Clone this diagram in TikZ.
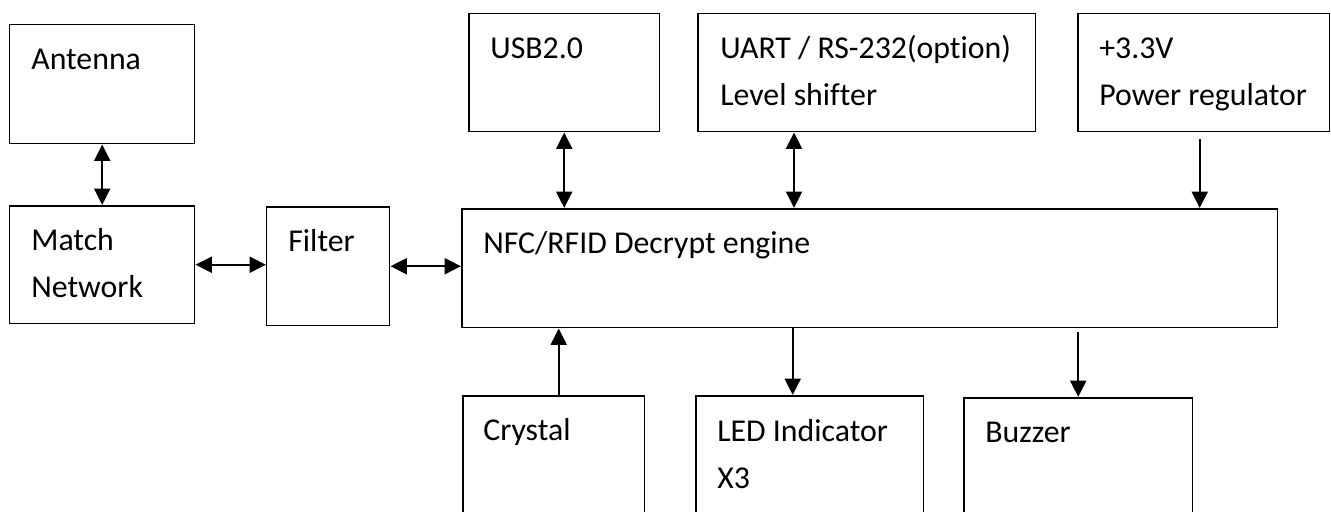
\documentclass[tikz,border=0pt]{standalone}
\usepackage{fontspec}
\setmainfont{Carlito}[Ligatures=NoCommon]
\usetikzlibrary{arrows.meta}
\begin{document}
\begin{tikzpicture}[x=0.02cm,y=-0.02cm,
  blk/.style={draw, line width=0.85pt, anchor=north west, inner sep=0pt},
  txt/.style={anchor=base west, align=left, inner sep=0pt, font=\fontsize{18.1}{26.7}\selectfont},
  con/.style={line width=1.15pt, -{Triangle[length=0.33cm,width=0.32cm]}},
  dcon/.style={line width=1.15pt, {Triangle[length=0.33cm,width=0.32cm]}-{Triangle[length=0.33cm,width=0.32cm]}}]
\useasboundingbox (0,0) rectangle (1331,511);
\clip (0,0) rectangle (1331,511);
% left chain
\node[blk, minimum width=3.7cm, minimum height=2.38cm] (ant) at (9,24){};
\node[txt] (antT) at ([shift={(22,45)}]ant.north west){Antenna};
\node[blk, minimum width=3.7cm, minimum height=2.36cm] (mat) at (9,205){};
\node[txt] (matT) at ([shift={(22,92)}]mat.north west){Match\\Network};
\node[blk, minimum width=2.46cm, minimum height=2.38cm] (filt) at (266,206){};
\node[txt] (filtT) at ([shift={(22,45)}]filt.north west){Filter};
% engine
\node[blk, minimum width=16.32cm, minimum height=2.38cm] (nfc) at (461,208){};
\node[txt] (nfcT) at ([shift={(22,45)}]nfc.north west){NFC/RFID Decrypt engine};
% top row
\node[blk, minimum width=3.82cm, minimum height=2.36cm] (usb) at (468,13){};
\node[txt] (usbT) at ([shift={(22,45)}]usb.north west){USB2.0};
\node[blk, minimum width=6.76cm, minimum height=2.36cm] (uart) at (697,13){};
\node[txt] (uartT) at ([shift={(23,92)}]uart.north west){UART / RS-232(option)\\Level shifter};
\node[blk, minimum width=5.04cm, minimum height=2.36cm] (pwr) at (1077,13){};
\node[txt] (pwrT) at ([shift={(22,92)}]pwr.north west){+3.3V\\Power regulator};
% bottom row
\node[blk, minimum width=3.64cm, minimum height=2.9cm] (cry) at (462,395){};
\node[txt] (cryT) at ([shift={(21,45)}]cry.north west){Crystal};
\node[blk, minimum width=4.56cm, minimum height=2.9cm] (led) at (695,395){};
\node[txt] (ledT) at ([shift={(22,93)}]led.north west){LED Indicator\\X3};
\node[blk, minimum width=4.58cm, minimum height=2.9cm] (buz) at (963,397){};
\node[txt] (buzT) at ([shift={(22,45)}]buz.north west){Buzzer};
% connectors
\coordinate (uartP) at ([shift={(97,0)}]uart.south west);
\coordinate (pwrP) at ([shift={(-4,7)}]pwr.south);
\coordinate (cryP) at ([shift={(5,0)}]cry.north);
\coordinate (ledP) at ([shift={(-17,0)}]led.north);
\coordinate (buzP) at ([shift={(0,4)}]buz.north |- nfc.south);
\draw[dcon] (ant.south) -- (mat.north);
\draw[dcon] (mat.east) -- (filt.west |- mat.east);
\draw[dcon] (filt.east) -- (filt.east -| nfc.west);
\draw[dcon] (usb.south) -- (usb.south |- nfc.north);
\draw[dcon] (uartP) -- (uartP |- nfc.north);
\draw[con] (pwrP) -- (pwrP |- nfc.north);
\draw[con] (cryP) -- (cryP |- nfc.south);
\draw[con] (ledP |- nfc.south) -- (ledP);
\draw[con] (buzP) -- (buz.north);
\end{tikzpicture}
\end{document}
